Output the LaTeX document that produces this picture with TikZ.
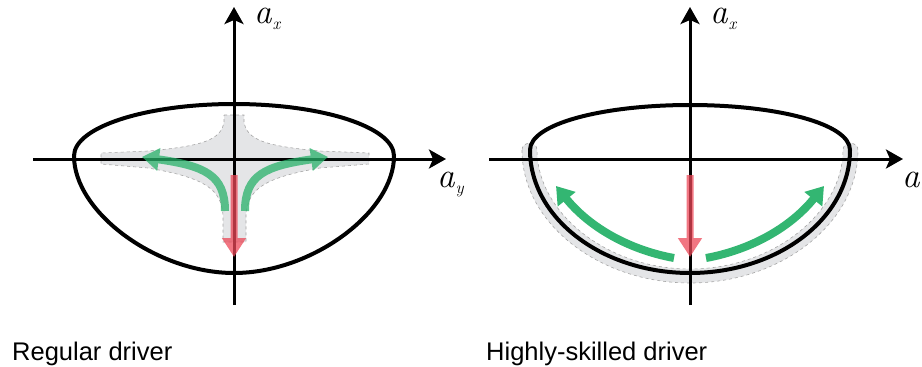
\documentclass[tikz,border=0pt]{standalone}
\usepackage{fontspec}
\setsansfont{Liberation Sans}
\usetikzlibrary{arrows.meta}

\definecolor{mvgreen}{RGB}{40,178,106}
\definecolor{mvred}{RGB}{236,72,88}
\definecolor{envgray}{RGB}{228,229,231}

\newcommand{\accsub}[1]{{\fontsize{17}{17}\selectfont\itshape #1}}

\begin{document}
\begin{tikzpicture}[
  x = 1pt, y = -1pt,
  axis/.style = {line width=3pt, -{Stealth[length=17pt, width=19pt, inset=4pt]}},
  limit/.style = {line width=4pt},
  envelope/.style = {fill=envgray, draw=gray!70, dashed, line width=0.6pt},
  greenarr/.style = {line width=8pt, draw=mvgreen,
                     -{Triangle[length=17pt, width=22pt]}},
  redarr/.style = {line width=7pt, draw=mvred,
                   -{Triangle[length=19pt, width=23pt]}},
  axlabel/.style = {font=\fontsize{35}{35}\selectfont\itshape, anchor=base west, inner sep=0pt},
  caption/.style = {font=\sffamily\fontsize{25.5}{30}\selectfont, anchor=base west, inner sep=0pt},
]
\useasboundingbox (0,0) rectangle (922,367);

% regular driver
\coordinate (l-west)  at (33,159);
\coordinate (l-east)  at (446,159);
\coordinate (l-south) at (234,305);
\coordinate (l-north) at (234,7);

\path[envelope] (224,115) -- (244,115) -- (244,122)
  .. controls (247,140) and (265,146) .. (320,151) -- (369,153) -- (369,164) -- (320,168)
  .. controls (262,178) and (248,190) .. (246,215) -- (246,242) -- (223,242) -- (223,215)
  .. controls (221,190) and (207,178) .. (148,168) -- (101,164) -- (101,153) -- (148,151)
  .. controls (203,146) and (221,140) .. (224,122) -- cycle;

\draw[axis] (l-west) -- (l-east);
\draw[axis] (l-south) -- (l-north);

\draw[limit] (74,156) .. controls (74,127) and (146,104) .. (234,104)
  .. controls (322,104) and (394,127) .. (394,156)
  .. controls (394,212) and (312,273) .. (234,273)
  .. controls (156,273) and (74,212) .. (74,156) -- cycle;

\coordinate (l-g1) at (225,211);
\coordinate (l-g2) at (245,211);
\begin{scope}[transparency group, opacity=0.75]
  \draw[greenarr] (l-g1) .. controls (225,175) and (205,166) .. (142,157);
  \draw[greenarr] (l-g2) .. controls (245,175) and (265,166) .. (328,157);
\end{scope}

\coordinate (l-r1) at (234,175);
\coordinate (l-r2) at (234,257);
\begin{scope}[transparency group, opacity=0.75]
  \draw[redarr] (l-r1) -- (l-r2);
\end{scope}

\node[axlabel] (l-ax) at (254,23) {a\kern1pt\raisebox{-6pt}{\accsub{x}}};
\node[axlabel] (l-ay) at (437,187) {a\kern1pt\raisebox{-6pt}{\accsub{y}}};
\node[caption] (l-cap) at (12,360) {Regular driver};

% highly-skilled driver
\coordinate (r-west)  at (489,159);
\coordinate (r-east)  at (903,159);
\coordinate (r-south) at (690,305);
\coordinate (r-north) at (690,7);

\path[envelope] (522,150) .. controls (522,224) and (600,283) .. (690,283)
  .. controls (780,283) and (858,224) .. (858,150)
  .. controls (858,141) and (843,141) .. (843,150)
  .. controls (843,212) and (774,269) .. (690,269)
  .. controls (606,269) and (537,212) .. (537,150)
  .. controls (537,141) and (522,141) .. (522,150) -- cycle;

\draw[axis] (r-west) -- (r-east);
\draw[axis] (r-south) -- (r-north);

\draw[limit] (530,150) .. controls (530,124) and (602,105) .. (690,105)
  .. controls (778,105) and (850,124) .. (850,150)
  .. controls (850,218) and (778,273) .. (690,273)
  .. controls (602,273) and (530,218) .. (530,150) -- cycle;

\coordinate (r-g1) at (674,258);
\coordinate (r-g2) at (706,258);
\begin{scope}[transparency group, opacity=0.95]
  \draw[greenarr] (r-g1) .. controls (630,250) and (590,228) .. (556,186);
  \draw[greenarr] (r-g2) .. controls (750,250) and (790,228) .. (824,186);
\end{scope}

\coordinate (r-r1) at (690,175);
\coordinate (r-r2) at (690,257);
\begin{scope}[transparency group, opacity=0.75]
  \draw[redarr] (r-r1) -- (r-r2);
\end{scope}

\node[axlabel] (r-ax) at (710,23) {a\kern1pt\raisebox{-6pt}{\accsub{x}}};
\node[axlabel] (r-ay) at (902,187) {a\kern1pt\raisebox{-6pt}{\accsub{y}}};
\node[caption] (r-cap) at (486,360) {Highly-skilled driver};

\end{tikzpicture}
\end{document}
